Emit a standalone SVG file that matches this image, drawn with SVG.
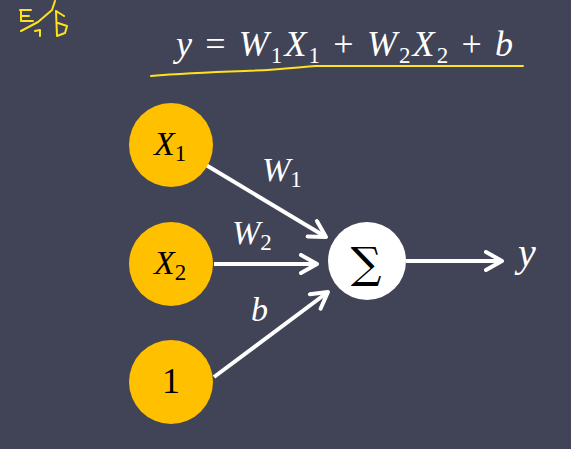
<svg xmlns="http://www.w3.org/2000/svg" width="571" height="449" viewBox="0 0 571 449">
<defs>
<marker id="arr" viewBox="0 0 22 22" refX="19" refY="11" markerWidth="22" markerHeight="22" markerUnits="userSpaceOnUse" orient="auto">
<path d="M3,2 L19,11 L3,20" fill="none" stroke="#ffffff" stroke-width="4" stroke-linecap="round" stroke-linejoin="round"/>
</marker>
<style>
.bg{fill:#414456}
.in{fill:#ffc000}
.sum{fill:#ffffff}
.lbl{font-family:"Liberation Serif",serif;font-style:italic;fill:#000000;font-size:34px}
.wl{font-family:"Liberation Serif",serif;font-style:italic;fill:#ffffff;font-size:34px}
.n{font-style:normal}
.sub{font-style:normal;font-size:23px}
.edge{stroke:#ffffff;stroke-width:4;fill:none;marker-end:url(#arr)}
.hand{stroke:#ffe21a;stroke-width:2;fill:none;stroke-linecap:round;stroke-linejoin:round}
</style>
</defs>
<rect class="bg" x="0" y="0" width="571" height="449"/>
<g id="annotation">
<path class="hand" d="M20,10 L31,10 M21,11 L21,21 L33,21 M22,16 L29,16 M21,31 L38,22 L52,10 L55,1 M35,31 L40,30 L40,36 M56,11 L57,36 L65,33 L67,26 L58,23 M56,11 L64,16"/>
<path class="hand" d="M151,76 C185,73 215,72 245,71 C275,70 300,67 315,66 L523,66"/>
</g>
<g id="equation">
<text class="wl" x="176" y="56" style="font-size:36px" textLength="337" lengthAdjust="spacing">y <tspan class="n">=</tspan> W<tspan class="sub" dy="7">1</tspan><tspan dy="-7">X</tspan><tspan class="sub" dy="7">1</tspan><tspan class="n" dy="-7"> + </tspan>W<tspan class="sub" dy="7">2</tspan><tspan dy="-7">X</tspan><tspan class="sub" dy="7">2</tspan><tspan class="n" dy="-7"> + </tspan>b</text>
</g>
<g id="connectors">
<line class="edge" x1="206" y1="165" x2="326" y2="237"/>
<line class="edge" x1="214" y1="264" x2="317" y2="264"/>
<line class="edge" x1="214" y1="377" x2="328" y2="292"/>
<line class="edge" x1="406" y1="261" x2="502" y2="261"/>
<text class="wl" x="262" y="181">W<tspan class="sub" dy="6">1</tspan></text>
<text class="wl" x="232" y="244">W<tspan class="sub" dy="6">2</tspan></text>
<text class="wl" x="251" y="321">b</text>
</g>
<g id="node-x1">
<circle class="in" cx="171" cy="145" r="42"/>
<text class="lbl" x="154" y="155">X<tspan class="sub" dy="6">1</tspan></text>
</g>
<g id="node-x2">
<circle class="in" cx="171" cy="264" r="42"/>
<text class="lbl" x="154" y="274">X<tspan class="sub" dy="6">2</tspan></text>
</g>
<g id="node-one">
<circle class="in" cx="171" cy="382" r="42"/>
<text x="171" y="393" text-anchor="middle" style="font-family:'Liberation Serif',serif;font-style:normal;font-size:36px;fill:#000000">1</text>
</g>
<g id="node-sum">
<circle class="sum" cx="367" cy="261" r="39"/>
<text x="366" y="278" text-anchor="middle" font-family="'DejaVu Serif',serif" font-size="43" fill="#000000">∑</text>
</g>
<g id="node-y">
<text class="wl" x="518" y="266" style="font-size:40px">y</text>
</g>
</svg>
